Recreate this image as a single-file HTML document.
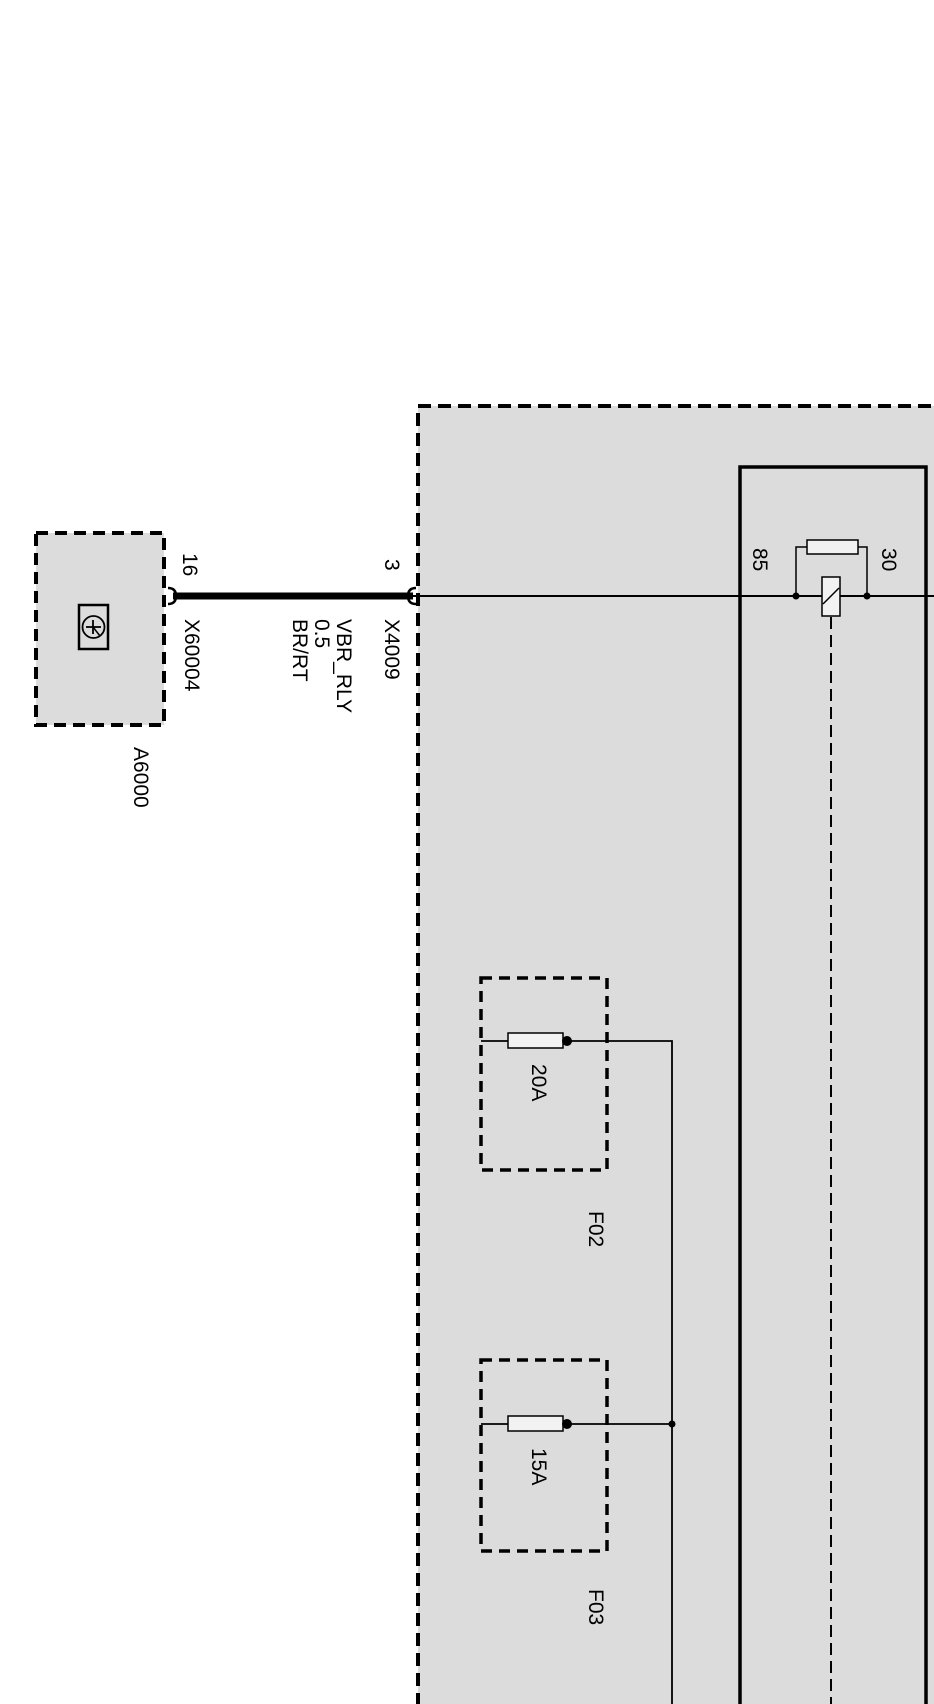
<!DOCTYPE html>
<html><head><meta charset="utf-8"><style>html,body{margin:0;padding:0;background:#fff}svg{display:block}</style></head>
<body>
<svg width="934" height="1704" viewBox="0 0 934 1704" xmlns="http://www.w3.org/2000/svg" font-family="Liberation Sans, sans-serif" font-size="21" fill="#000">
<!-- big dashed module -->
<rect x="418" y="406" width="530" height="1320" fill="#dcdcdc" stroke="#000" stroke-width="4" stroke-dasharray="13 7"/>
<!-- A6000 -->
<rect x="36" y="533" width="128" height="192" fill="#dcdcdc" stroke="#000" stroke-width="4" stroke-dasharray="12 7"/>
<rect x="79" y="605" width="29" height="44" fill="none" stroke="#000" stroke-width="2.5"/>
<circle cx="93.5" cy="627" r="11" fill="none" stroke="#000" stroke-width="1.8"/>
<line x1="86" y1="627" x2="101" y2="627" stroke="#000" stroke-width="1.8"/>
<line x1="93" y1="620" x2="93" y2="634" stroke="#000" stroke-width="1.8"/>
<line x1="93" y1="627" x2="100" y2="636" stroke="#000" stroke-width="1.5"/>
<!-- inner solid box -->
<path d="M740 1704 V467 H926 V1704" fill="none" stroke="#000" stroke-width="3.5"/>
<!-- wires -->
<line x1="173" y1="596" x2="413" y2="596" stroke="#000" stroke-width="7"/>
<line x1="413" y1="596" x2="934" y2="596" stroke="#000" stroke-width="2"/>
<path d="M168 588 q8 0 8 8 q0 8 -8 8" fill="none" stroke="#000" stroke-width="2.5"/>
<path d="M416 588 q-8 0 -8 8 q0 8 8 8" fill="none" stroke="#000" stroke-width="2.5"/>
<!-- relay -->
<rect x="807" y="540" width="51" height="14" fill="#f2f2f2" stroke="#000" stroke-width="1.5"/>
<path d="M796 595 V547 H807 M858 547 H867 V595" fill="none" stroke="#000" stroke-width="1.5"/>
<circle cx="796" cy="596" r="3.5"/><circle cx="867" cy="596" r="3.5"/>
<rect x="822" y="577" width="18" height="39" fill="#f2f2f2" stroke="#000" stroke-width="1.5"/>
<line x1="823" y1="604" x2="839" y2="588" stroke="#000" stroke-width="1.5"/>
<line x1="831" y1="617" x2="831" y2="1704" stroke="#000" stroke-width="2" stroke-dasharray="12 6"/>
<!-- fuses -->
<rect x="481" y="978" width="126" height="192" fill="none" stroke="#000" stroke-width="3.5" stroke-dasharray="11 7"/>
<rect x="481" y="1360" width="126" height="191" fill="none" stroke="#000" stroke-width="3.5" stroke-dasharray="11 7"/>
<path d="M481 1041 H672 V1704 M481 1424 H672" fill="none" stroke="#000" stroke-width="1.8"/>
<rect x="508" y="1033" width="55" height="15" fill="#f2f2f2" stroke="#000" stroke-width="1.5"/>
<rect x="508" y="1416" width="55" height="15" fill="#f2f2f2" stroke="#000" stroke-width="1.5"/>
<circle cx="567" cy="1041" r="5"/><circle cx="567" cy="1424" r="5"/><circle cx="672" cy="1424" r="3.5"/>
<!-- labels -->
<g>
<text transform="translate(183,553) rotate(90)">16</text>
<text transform="translate(385,559) rotate(90)">3</text>
<text transform="translate(185,619) rotate(90)">X60004</text>
<text transform="translate(385,619) rotate(90)">X4009</text>
<text transform="translate(337,619) rotate(90)">VBR_RLY</text>
<text transform="translate(315,619) rotate(90)">0.5</text>
<text transform="translate(293,619) rotate(90)">BR/RT</text>
<text transform="translate(134,747) rotate(90)">A6000</text>
<text transform="translate(753,548) rotate(90)">85</text>
<text transform="translate(882,548) rotate(90)">30</text>
<text transform="translate(532,1064) rotate(90)">20A</text>
<text transform="translate(532,1448) rotate(90)">15A</text>
<text transform="translate(589,1211) rotate(90)">F02</text>
<text transform="translate(589,1589) rotate(90)">F03</text>
</g>
</svg>
</body></html>
